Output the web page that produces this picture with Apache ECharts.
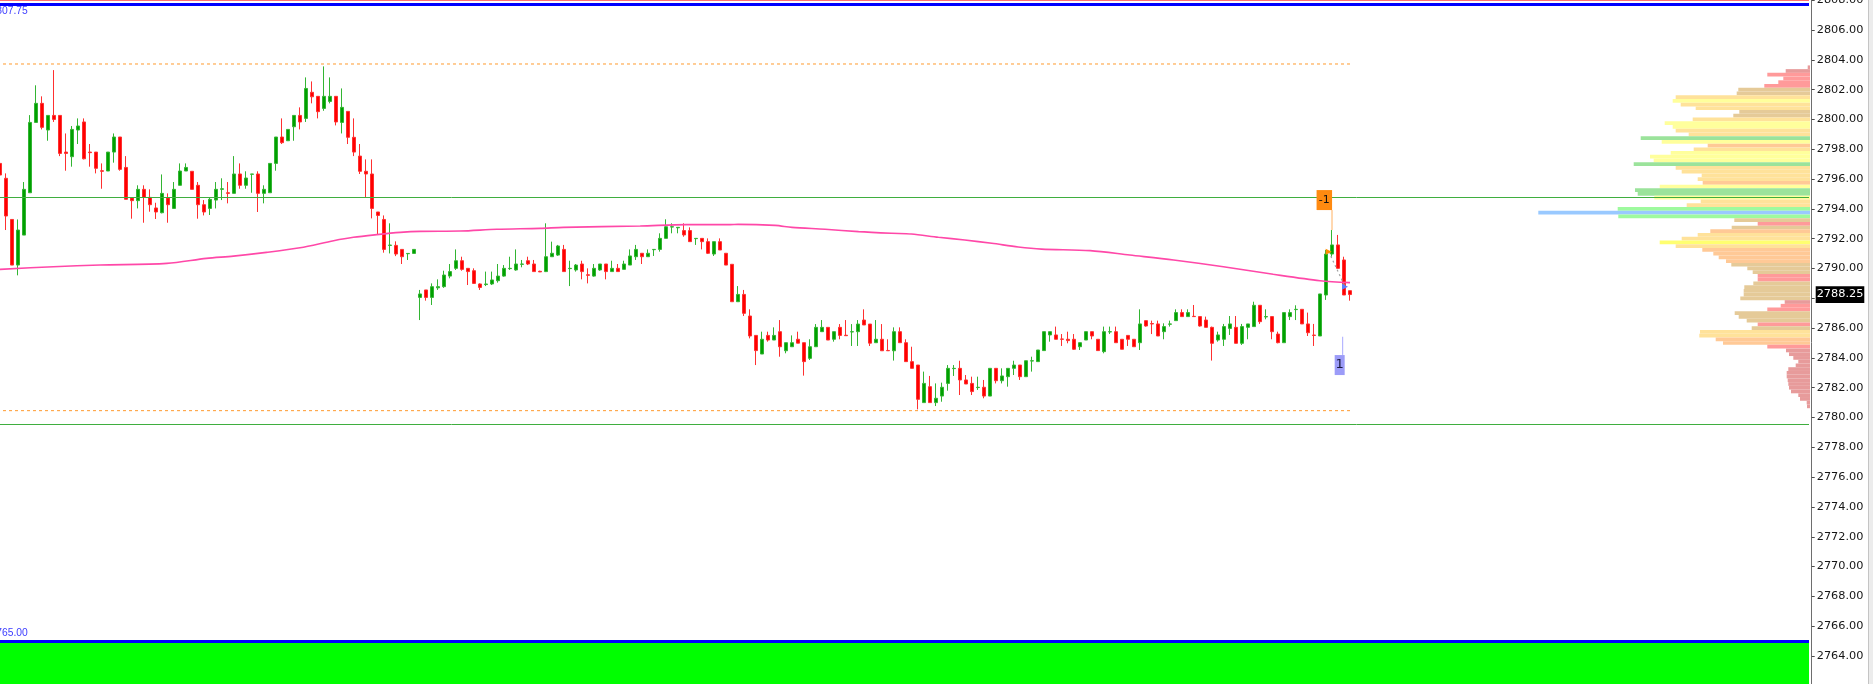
<!DOCTYPE html>
<html><head><meta charset="utf-8">
<script src="https://cdn.jsdelivr.net/npm/echarts@6/dist/echarts.min.js"></script>
<style>html,body{margin:0;padding:0;background:#fff;overflow:hidden}#c{width:1873px;height:684px}</style>
</head><body><div id="c"></div>
<script>
// ---------- DATA ----------
const opens = [2797.05,2796.05,2793.29,2790.23,2792.24,2795.08,2799.80,2801.08,2799.29,2800.27,2800.27,2797.81,2797.50,2799.29,2799.83,2797.81,2797.81,2796.56,2796.54,2797.81,2798.82,2796.78,2794.73,2794.55,2795.31,2794.77,2794.06,2793.74,2794.73,2794.03,2795.58,2796.54,2796.52,2795.58,2794.28,2794.03,2794.59,2795.31,2795.08,2795.04,2796.34,2795.58,2796.32,2796.34,2795.04,2795.08,2797.05,2798.82,2798.57,2799.51,2800.27,2800.07,2801.82,2801.55,2800.74,2801.21,2801.55,2799.80,2800.54,2798.80,2797.54,2796.52,2796.34,2793.79,2793.29,2791.55,2791.55,2791.28,2790.99,2791.01,2788.06,2788.56,2788.06,2788.70,2788.78,2789.49,2790.01,2790.52,2790.01,2789.85,2788.96,2788.92,2788.96,2789.18,2789.49,2789.99,2789.90,2790.28,2790.52,2790.30,2789.81,2789.79,2790.79,2790.90,2791.28,2789.99,2789.90,2790.30,2789.58,2789.49,2789.90,2790.30,2789.79,2790.01,2789.94,2790.23,2790.79,2791.02,2790.79,2791.26,2791.28,2792.02,2792.78,2792.73,2792.54,2792.54,2792.00,2792.02,2791.80,2790.97,2791.80,2791.02,2790.28,2787.77,2788.26,2786.81,2785.51,2784.26,2785.51,2785.20,2785.76,2784.48,2784.75,2785.25,2785.02,2783.97,2784.75,2785.76,2786.05,2785.25,2786.05,2785.52,2785.74,2785.76,2786.54,2786.27,2785.02,2785.25,2784.50,2784.48,2785.76,2785.02,2783.75,2783.52,2781.00,2782.07,2781.00,2781.44,2782.29,2783.28,2783.30,2782.52,2782.29,2782.01,2782.03,2781.44,2783.30,2782.47,2782.74,2783.30,2783.52,2782.74,2783.79,2783.75,2784.49,2785.54,2785.54,2785.27,2785.25,2785.25,2784.75,2785.20,2785.76,2785.25,2784.42,2785.74,2785.76,2785.25,2785.51,2785.25,2785.02,2786.50,2786.30,2786.28,2785.76,2786.26,2786.50,2787.04,2786.77,2786.79,2786.77,2786.54,2786.05,2785.20,2785.25,2785.98,2786.05,2784.98,2786.05,2786.10,2787.53,2786.75,2786.77,2785.60,2785.02,2786.77,2787.24,2787.26,2786.28,2785.53,2785.47,2788.22,2790.97,2791.58,2790.57,2788.51];
const highs = [2798.35,2796.38,2793.29,2793.29,2795.80,2800.29,2802.29,2801.55,2800.27,2803.31,2800.27,2799.06,2799.56,2800.07,2800.07,2798.35,2797.81,2797.05,2797.81,2799.06,2798.82,2797.54,2794.73,2795.58,2795.58,2795.31,2794.41,2796.31,2795.04,2795.80,2797.05,2797.05,2796.52,2795.80,2794.59,2794.77,2795.80,2796.05,2795.80,2797.54,2797.05,2796.52,2796.34,2796.52,2795.58,2797.05,2798.82,2800.07,2799.33,2800.27,2800.81,2802.82,2802.55,2801.55,2803.56,2802.82,2801.55,2802.08,2800.54,2800.07,2798.35,2797.32,2797.32,2793.79,2793.56,2793.03,2791.82,2791.28,2791.01,2791.28,2788.56,2788.56,2789.00,2789.27,2789.85,2790.30,2791.28,2790.79,2790.01,2790.01,2789.00,2789.79,2789.79,2790.30,2790.23,2790.79,2791.28,2790.57,2790.79,2790.57,2789.85,2793.03,2791.80,2791.58,2791.58,2790.52,2790.30,2790.52,2790.01,2790.30,2790.30,2790.30,2790.52,2790.30,2790.52,2791.28,2791.58,2791.02,2791.28,2791.28,2792.36,2793.30,2793.03,2792.76,2793.03,2792.76,2792.02,2792.02,2792.02,2791.80,2792.02,2791.02,2790.28,2788.82,2788.56,2787.26,2785.51,2785.76,2785.76,2786.05,2786.54,2785.02,2785.51,2785.76,2785.02,2785.25,2786.27,2786.54,2786.05,2785.76,2786.27,2786.54,2786.27,2786.54,2787.26,2786.27,2786.54,2786.27,2785.25,2786.05,2786.05,2785.25,2784.75,2783.52,2783.08,2782.79,2782.29,2782.34,2783.52,2783.52,2783.81,2782.85,2782.74,2782.74,2782.52,2783.30,2783.30,2783.30,2783.30,2783.81,2783.52,2783.81,2784.08,2784.53,2785.76,2785.76,2786.10,2785.60,2785.76,2785.60,2785.02,2785.76,2785.76,2785.25,2786.10,2786.10,2786.10,2785.25,2785.51,2785.25,2787.26,2786.50,2786.50,2786.50,2786.32,2786.50,2787.26,2787.26,2787.26,2787.55,2786.77,2786.77,2786.10,2785.76,2786.28,2786.81,2786.81,2786.28,2786.28,2787.77,2787.53,2787.26,2786.77,2785.76,2787.04,2787.26,2787.53,2787.26,2787.04,2786.28,2788.29,2791.24,2792.58,2792.25,2790.79,2788.51];
const lows = [2796.16,2792.58,2790.23,2789.54,2792.24,2795.08,2799.80,2799.33,2798.57,2799.83,2797.54,2796.56,2796.83,2798.35,2797.32,2796.83,2796.38,2795.35,2796.54,2797.10,2796.56,2794.64,2793.34,2794.03,2793.07,2793.81,2793.32,2793.70,2793.07,2794.03,2795.58,2796.54,2795.31,2793.34,2793.56,2793.59,2794.03,2794.59,2794.37,2795.04,2795.35,2795.35,2795.08,2793.79,2794.37,2795.08,2796.56,2798.35,2798.57,2798.57,2799.33,2799.83,2801.08,2800.07,2800.58,2801.08,2799.60,2799.06,2798.35,2797.54,2796.34,2794.77,2793.36,2792.29,2791.06,2791.01,2790.83,2790.30,2790.57,2791.01,2786.54,2787.84,2787.55,2788.56,2788.70,2789.34,2789.90,2789.85,2788.89,2788.96,2788.56,2788.82,2788.89,2789.05,2789.45,2789.90,2789.85,2790.08,2790.23,2789.79,2789.76,2789.76,2790.79,2790.84,2789.79,2788.82,2789.79,2789.27,2789.00,2789.45,2789.85,2789.27,2789.79,2789.79,2789.94,2790.23,2790.57,2790.30,2790.79,2790.84,2791.13,2792.02,2792.36,2792.36,2792.13,2791.80,2791.58,2791.28,2790.97,2790.84,2791.24,2790.23,2787.77,2787.77,2786.81,2785.31,2783.52,2784.26,2785.09,2785.20,2784.08,2784.31,2784.75,2784.99,2782.81,2783.86,2784.75,2785.76,2785.20,2785.09,2785.25,2785.47,2784.80,2784.80,2786.21,2784.80,2785.02,2784.48,2784.48,2783.82,2785.02,2783.75,2783.30,2780.55,2781.00,2781.00,2780.77,2781.06,2781.80,2782.79,2781.51,2782.25,2781.51,2781.85,2781.29,2781.44,2782.29,2782.29,2782.07,2782.85,2782.52,2782.74,2783.08,2783.75,2784.49,2785.09,2785.25,2784.80,2784.98,2784.53,2784.53,2785.20,2785.25,2784.49,2784.31,2785.60,2785.02,2784.58,2784.80,2784.75,2784.53,2786.10,2785.60,2785.47,2785.25,2786.10,2786.50,2786.77,2786.77,2786.77,2786.10,2786.05,2783.82,2785.09,2784.80,2785.54,2784.98,2784.87,2785.25,2786.10,2786.28,2786.59,2785.25,2784.98,2785.02,2786.54,2786.54,2786.28,2785.47,2784.80,2785.47,2787.89,2790.79,2790.01,2788.22,2787.84];
const closes = [2796.27,2793.52,2790.23,2792.58,2795.31,2799.80,2801.08,2799.47,2800.27,2800.00,2797.72,2797.72,2799.33,2799.56,2797.36,2797.77,2796.72,2796.52,2797.81,2798.82,2796.65,2794.64,2794.55,2795.31,2794.77,2794.28,2793.79,2795.04,2794.28,2795.31,2796.54,2796.78,2795.31,2794.28,2793.79,2794.64,2795.31,2795.35,2795.04,2796.34,2795.58,2796.07,2796.34,2795.04,2795.31,2797.05,2798.82,2798.44,2799.33,2800.27,2799.83,2802.08,2801.52,2800.52,2801.55,2801.55,2799.83,2800.81,2798.80,2797.81,2796.52,2796.34,2794.03,2793.56,2791.28,2791.57,2790.97,2790.79,2791.01,2791.28,2788.29,2788.06,2788.78,2788.78,2789.56,2789.79,2790.52,2789.94,2789.79,2789.00,2788.73,2788.96,2789.23,2789.49,2790.01,2790.01,2790.30,2790.30,2790.30,2789.79,2789.77,2790.79,2791.02,2791.51,2789.79,2790.01,2790.23,2789.79,2789.54,2790.01,2790.30,2789.79,2790.01,2789.79,2790.30,2790.84,2791.28,2790.79,2791.02,2791.28,2792.02,2792.80,2792.80,2792.76,2792.25,2791.80,2792.02,2791.80,2791.02,2791.80,2791.24,2790.23,2787.77,2788.26,2786.99,2785.47,2784.49,2785.25,2785.20,2785.51,2784.75,2785.02,2785.02,2784.99,2783.75,2784.75,2786.05,2786.05,2785.20,2785.76,2785.51,2785.49,2785.76,2786.27,2786.21,2784.99,2785.25,2784.48,2784.48,2785.76,2785.02,2783.75,2783.30,2781.22,2782.29,2781.00,2781.29,2782.03,2783.30,2783.30,2782.52,2782.25,2781.74,2782.03,2781.44,2783.30,2782.47,2782.79,2783.30,2783.52,2782.74,2783.81,2783.81,2784.53,2785.76,2785.76,2785.25,2785.25,2785.16,2784.58,2785.02,2785.76,2785.47,2784.49,2785.76,2785.76,2785.02,2784.58,2785.25,2784.75,2786.28,2786.14,2786.28,2785.47,2786.10,2786.28,2787.04,2786.77,2787.04,2786.77,2786.14,2786.05,2784.98,2785.54,2786.10,2786.28,2784.98,2786.10,2786.28,2787.53,2786.43,2786.77,2785.76,2785.02,2787.04,2787.04,2787.26,2786.28,2785.69,2785.51,2788.29,2790.97,2791.58,2790.01,2788.22,2788.25];

// moving average, read at sampled bar positions
const maBar = [0,8.9,16.7,27.8,34.4,38.9,44.4,50,55.6,58.9,62.8,66.7,70,76.7,82.8,90,93.9,106.7,114.4,121.7,123,129.2,132,137.5,143.1,148.6,151.9,156.4,160.8,165.3,169.7,173.6,181.7,188.3,195.6,203.9,212.2,220,225];
const maValue = [2789.94,2790.12,2790.23,2790.34,2790.68,2790.83,2791.08,2791.39,2791.86,2792.09,2792.27,2792.42,2792.49,2792.51,2792.63,2792.69,2792.76,2792.85,2792.94,2792.94,2792.96,2792.89,2792.76,2792.63,2792.47,2792.36,2792.31,2792.09,2791.91,2791.69,2791.44,2791.30,2791.20,2790.90,2790.57,2790.12,2789.61,2789.18,2789.05];

// volume profile: price level, volume, colour class
const vpPrice = [2803.50,2803.25,2803.00,2802.75,2802.50,2802.25,2802.00,2801.75,2801.50,2801.25,2801.00,2800.75,2800.50,2800.25,2800.00,2799.75,2799.50,2799.25,2799.00,2798.75,2798.50,2798.25,2798.00,2797.75,2797.50,2797.25,2797.00,2796.75,2796.50,2796.25,2796.00,2795.75,2795.50,2795.25,2795.00,2794.75,2794.50,2794.25,2794.00,2793.75,2793.50,2793.25,2793.00,2792.75,2792.50,2792.25,2792.00,2791.75,2791.50,2791.25,2791.00,2790.75,2790.50,2790.25,2790.00,2789.75,2789.50,2789.25,2789.00,2788.75,2788.50,2788.25,2788.00,2787.75,2787.50,2787.25,2787.00,2786.75,2786.50,2786.25,2786.00,2785.75,2785.50,2785.25,2785.00,2784.75,2784.50,2784.25,2784.00,2783.75,2783.50,2783.25,2783.00,2782.75,2782.50,2782.25,2782.00,2781.75,2781.50,2781.25,2781.00,2780.75];
const vpVolume = [2.3,24.3,42.7,26.7,31.7,45.7,71.7,73.3,134.3,137.3,129.3,114.3,70.7,76.7,117.3,145.3,137.3,134.3,121.3,169.3,148.3,102.3,116.3,139.3,160,156.3,176.3,134.3,128.3,108.3,112.3,107.3,150.3,175,172.3,155.7,109.3,123.3,192.3,271.7,191.7,75.7,52.3,78.3,99.7,112.3,128.3,150.3,134.3,107.7,96.7,91.3,84,78.7,62.7,57.3,52.3,52.3,56.7,65.7,66.3,66.3,69.7,25.3,29.3,42.7,75.3,71.3,63.3,52.3,58.3,110,110.7,94.3,87,42.7,24,21,16.7,11.7,14.3,21.7,23.3,23.3,22.3,21.7,21,19,11.7,10,3.3,3];
const vpClass = ['d','d','s','s','s','s','t','t','o','y','o','o','t','t','o','y','y','o','o','g','y','p','o','y','y','y','g','o','o','o','o','p','y','g','g','y','o','o','G','b','G','t','s','t','p','o','o','Y','o','p','p','p','p','t','t','t','s','s','t','t','t','t','t','d','s','s','t','t','t','s','t','o','o','p','p','s','d','d','d','d','d','d','d','d','d','d','d','d','d','d','d','d'];
const VP_STEP = 0.25;

// horizontal levels
const levelTopBlue = 2807.75, levelTopRed = 2808.00, levelBottomBlue = 2765.00;
const greenLevels = [2794.75, 2779.55];
const rangeHigh = 2803.72, rangeLow = 2780.46, rangeEndBar = 225.3;
const lastPrice = 2788.25;
// trade markers
const sellMark = {bar: 220.72, price: 2794.59, text: '-1', stemBar: 222, stemFrom: 2792.58, stemTo: 2793.92};
const buyMark = {bar: 223.28, price: 2783.52, text: '1', stemBar: 223.78, stemFrom: 2785.42, stemTo: 2784.20};
const tradePath = [[221.45, 2791.13], [224.17, 2788.78]];

const SLOTS = 302;
const slotLabels = Array.from({length: SLOTS}, (_, i) => String(i));

// ---------- CHART ----------
const VP_COLORS = {d:'#E79B9B', s:'#FF9A9A', t:'#E5CA98', o:'#FFE29A', y:'#FFFF9C', Y:'#FFFF70', p:'#FFC996', g:'#9BE39B', G:'#9EFA9E', b:'#99C9FF'};
const chart = echarts.init(document.getElementById('c'), null, {renderer: 'canvas'});
const candleData = opens.map((o, i) => [o, closes[i], lows[i], highs[i]]);
const yMin = 2762, yMax = 2808;
const gridTop = 0.2, gridBottom = -1.8;

const option = {
  animation: false,
  backgroundColor: '#ffffff',
  grid: [
    {left: -3, right: 64, top: gridTop, bottom: gridBottom, containLabel: false, outerBoundsMode: 'none'},
    {left: 1530, right: 63, top: gridTop, bottom: gridBottom, containLabel: false, outerBoundsMode: 'none'}
  ],
  xAxis: [
    {type: 'category', gridIndex: 0, data: slotLabels, boundaryGap: true, show: false},
    {type: 'value', gridIndex: 0, min: -0.5, max: SLOTS - 0.5, show: false},
    {type: 'value', gridIndex: 1, min: 0, max: 280, inverse: true, show: false}
  ],
  yAxis: [
    {type: 'value', gridIndex: 0, position: 'right', offset: 2.7, min: yMin, max: yMax, interval: 2,
     splitLine: {show: false},
     axisLine: {show: true, onZero: false, lineStyle: {color: '#6e6e6e', width: 1}},
     axisTick: {show: true, length: 3, inside: false, lineStyle: {color: '#4a4a4a'}},
     axisLabel: {show: true, margin: 5, showMinLabel: false, showMaxLabel: true,
       verticalAlignMaxLabel: 'middle', verticalAlignMinLabel: 'middle', hideOverlap: false,
       fontFamily: 'DejaVu Sans', fontSize: 11.3, color: '#151515',
       formatter: v => v.toFixed(2)}},
    {type: 'value', gridIndex: 1, min: yMin, max: yMax, show: false, splitLine: {show: false}, axisLine: {onZero: false}}
  ],
  series: [
    {
      type: 'custom', name: 'profile', xAxisIndex: 2, yAxisIndex: 1, z: 1,
      data: vpPrice.map((p, i) => [vpVolume[i], p]),
      renderItem: function (params, api) {
        const vol = api.value(0), price = api.value(1);
        const a = api.coord([vol, price + VP_STEP / 2]);
        const b = api.coord([0, price - VP_STEP / 2]);
        return {type: 'rect', shape: {x: a[0], y: a[1], width: b[0] - a[0], height: b[1] - a[1]},
          style: {fill: VP_COLORS[vpClass[params.dataIndex]]}};
      }
    },
    {
      type: 'candlestick', name: 'price', xAxisIndex: 0, yAxisIndex: 0, z: 3,
      barWidth: 3, barMaxWidth: 3,
      data: candleData,
      itemStyle: {color: '#00A000', color0: '#FF0000', borderColor: '#33B533', borderColor0: '#FF3030', borderWidth: 1},
      markArea: {silent: true, itemStyle: {color: '#00FF00', opacity: 1},
        data: [[{yAxis: yMin}, {yAxis: levelBottomBlue}]]},
      markLine: {silent: true, symbol: ['none', 'none'], label: {show: false},
        data: [
          {yAxis: levelTopRed, lineStyle: {color: '#FF7070', width: 2, type: 'solid'}},
          {yAxis: levelTopBlue, lineStyle: {color: '#0000FF', width: 3, type: 'solid'}},
          {yAxis: levelBottomBlue, lineStyle: {color: '#0000FF', width: 3, type: 'solid'}},
          {yAxis: greenLevels[0], lineStyle: {color: '#3FAE3F', width: 1, type: 'solid'}},
          {yAxis: greenLevels[1], lineStyle: {color: '#3FAE3F', width: 1, type: 'solid'}}
        ]}
    },
    {
      type: 'line', name: 'rangeHigh', xAxisIndex: 1, yAxisIndex: 0, z: 2, symbol: 'none', silent: true,
      data: [[-0.5, rangeHigh], [rangeEndBar, rangeHigh]],
      lineStyle: {color: '#FF9A2E', width: 1, type: [3, 3]}
    },
    {
      type: 'line', name: 'rangeLow', xAxisIndex: 1, yAxisIndex: 0, z: 2, symbol: 'none', silent: true,
      data: [[-0.5, rangeLow], [rangeEndBar, rangeLow]],
      lineStyle: {color: '#FF9A2E', width: 1, type: [3, 3]}
    },
    {
      type: 'line', name: 'ma', xAxisIndex: 1, yAxisIndex: 0, z: 4, symbol: 'none', smooth: 0.3, silent: true,
      data: maBar.map((b, i) => [b, maValue[i]]),
      lineStyle: {color: '#FF48A8', width: 1.6}
    },
    {
      type: 'line', name: 'trade', xAxisIndex: 1, yAxisIndex: 0, z: 5, silent: true,
      data: [
        {value: tradePath[0], symbol: 'triangle', symbolRotate: -90, symbolSize: 6, itemStyle: {color: '#FF8C00'}},
        {value: tradePath[1], symbol: 'triangle', symbolRotate: -90, symbolSize: 6, itemStyle: {color: '#5C7CFF'}}
      ],
      showAllSymbol: true,
      lineStyle: {color: '#A0A0A0', width: 1.2, type: [2, 3]}
    },
    {
      type: 'line', name: 'sellStem', xAxisIndex: 1, yAxisIndex: 0, z: 5, symbol: 'none', silent: true,
      data: [[sellMark.stemBar, sellMark.stemFrom], [sellMark.stemBar, sellMark.stemTo]],
      lineStyle: {color: '#FFB060', width: 1}
    },
    {
      type: 'line', name: 'buyStem', xAxisIndex: 1, yAxisIndex: 0, z: 5, symbol: 'none', silent: true,
      data: [[buyMark.stemBar, buyMark.stemFrom], [buyMark.stemBar, buyMark.stemTo]],
      lineStyle: {color: '#A8A8FF', width: 1}
    },
    {
      type: 'scatter', name: 'sellBox', xAxisIndex: 1, yAxisIndex: 0, z: 6, silent: true,
      symbol: 'rect', symbolSize: [15.5, 20],
      data: [[sellMark.bar, sellMark.price]],
      itemStyle: {color: '#FF8A10', opacity: 1},
      label: {show: true, position: 'inside', formatter: sellMark.text, color: '#111', fontFamily: 'DejaVu Sans', fontSize: 11}
    },
    {
      type: 'scatter', name: 'buyBox', xAxisIndex: 1, yAxisIndex: 0, z: 6, silent: true,
      symbol: 'rect', symbolSize: [10, 20],
      data: [[buyMark.bar, buyMark.price]],
      itemStyle: {color: '#9C9CF8', opacity: 1},
      label: {show: true, position: 'inside', formatter: buyMark.text, color: '#1a1a40', fontFamily: 'DejaVu Sans', fontSize: 13}
    }
  ]
};
chart.setOption(option);

const yTag = chart.convertToPixel({yAxisIndex: 0}, lastPrice);
const yTopLbl = chart.convertToPixel({yAxisIndex: 0}, levelTopBlue);
const yBotLbl = chart.convertToPixel({yAxisIndex: 0}, levelBottomBlue);
const sideFont = '10.3px "Liberation Sans"';
chart.setOption({
  graphic: [
    {type: 'rect', z: 100, shape: {x: 1815.7, y: yTag - 8.3, width: 48.6, height: 16.7}, style: {fill: '#000000'}},
    {type: 'text', z: 101, x: 1840, y: yTag, style: {text: lastPrice.toFixed(2), fill: '#ffffff', font: '11.3px "DejaVu Sans"', align: 'center', verticalAlign: 'middle', textAlign: 'center', textVerticalAlign: 'middle'}},
    {type: 'text', z: 101, x: 27.7, y: yTopLbl + 7.3, style: {text: levelTopBlue.toFixed(2), fill: '#3c3cff', font: sideFont, align: 'right', verticalAlign: 'middle', textAlign: 'right', textVerticalAlign: 'middle'}},
    {type: 'text', z: 101, x: 27.7, y: yBotLbl - 8, style: {text: levelBottomBlue.toFixed(2), fill: '#3c3cff', font: sideFont, align: 'right', verticalAlign: 'middle', textAlign: 'right', textVerticalAlign: 'middle'}},
    {type: 'rect', z: 100, shape: {x: 1868, y: 0, width: 5, height: 684}, style: {fill: '#ECECEC'}},
    {type: 'rect', z: 100, shape: {x: 1868, y: 0, width: 1, height: 684}, style: {fill: '#C4C4C4'}}
  ]
});
</script>
</body></html>
